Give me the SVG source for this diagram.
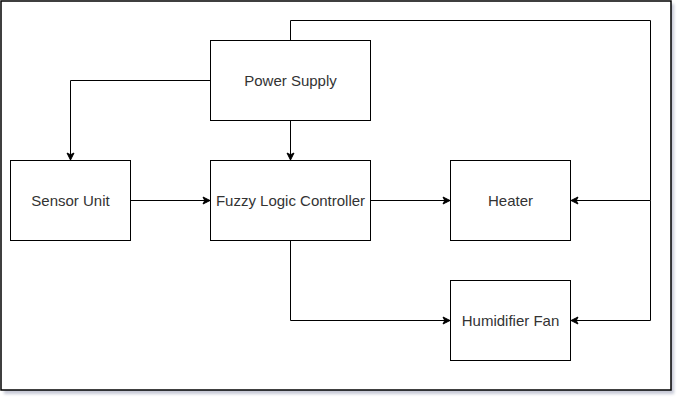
<svg xmlns="http://www.w3.org/2000/svg" width="682" height="402" viewBox="0 0 682 402">
<defs>
<filter id="sh" x="-5%" y="-5%" width="110%" height="110%">
<feGaussianBlur stdDeviation="1.5"/>
</filter>
<marker id="arr" markerWidth="10" markerHeight="10" viewBox="0 0 10 10" refX="8" refY="5" orient="auto" markerUnits="userSpaceOnUse">
<path d="M1,1.5 L8,5 L1,8.5 L2.75,5 Z" fill="#000" stroke="#000" stroke-width="1"/>
</marker>
</defs>
<style>
.box{fill:#fff;stroke:#000;stroke-width:1}
.lbl{font-family:"Liberation Sans",Arial,sans-serif;font-size:15px;fill:#333;text-anchor:middle;dominant-baseline:central}
.edge{fill:none;stroke:#000;stroke-width:1;marker-end:url(#arr)}
</style>
<rect x="4" y="4" width="670" height="390" fill="#b8bccc" filter="url(#sh)" opacity="0.8"/>
<rect x="1" y="1" width="670" height="389" fill="#fff" stroke="#000" stroke-width="1.5"/>
<g id="connectors">
<path class="edge" d="M290.5,40.5 V20.5 H650.5 V200.5 H571"/>
<path class="edge" d="M650.5,200.5 V320.5 H571"/>
<path class="edge" d="M210.5,80.5 H70.5 V160"/>
<path class="edge" d="M290.5,120.5 V160"/>
<path class="edge" d="M130.5,200.5 H210"/>
<path class="edge" d="M370.5,200.5 H450"/>
<path class="edge" d="M290.5,240.5 V320.5 H450"/>
</g>
<g id="power-supply">
<rect class="box" x="210.5" y="40.5" width="160" height="80"/>
<text class="lbl" x="290.5" y="80.5">Power Supply</text>
</g>
<g id="sensor-unit">
<rect class="box" x="10.5" y="160.5" width="120" height="80"/>
<text class="lbl" x="70.5" y="200.5">Sensor Unit</text>
</g>
<g id="fuzzy-logic-controller">
<rect class="box" x="210.5" y="160.5" width="160" height="80"/>
<text class="lbl" x="290.5" y="200.5">Fuzzy Logic Controller</text>
</g>
<g id="heater">
<rect class="box" x="450.5" y="160.5" width="120" height="80"/>
<text class="lbl" x="510.5" y="200.5">Heater</text>
</g>
<g id="humidifier-fan">
<rect class="box" x="450.5" y="280.5" width="120" height="80"/>
<text class="lbl" x="510.5" y="320.5">Humidifier Fan</text>
</g>
</svg>
